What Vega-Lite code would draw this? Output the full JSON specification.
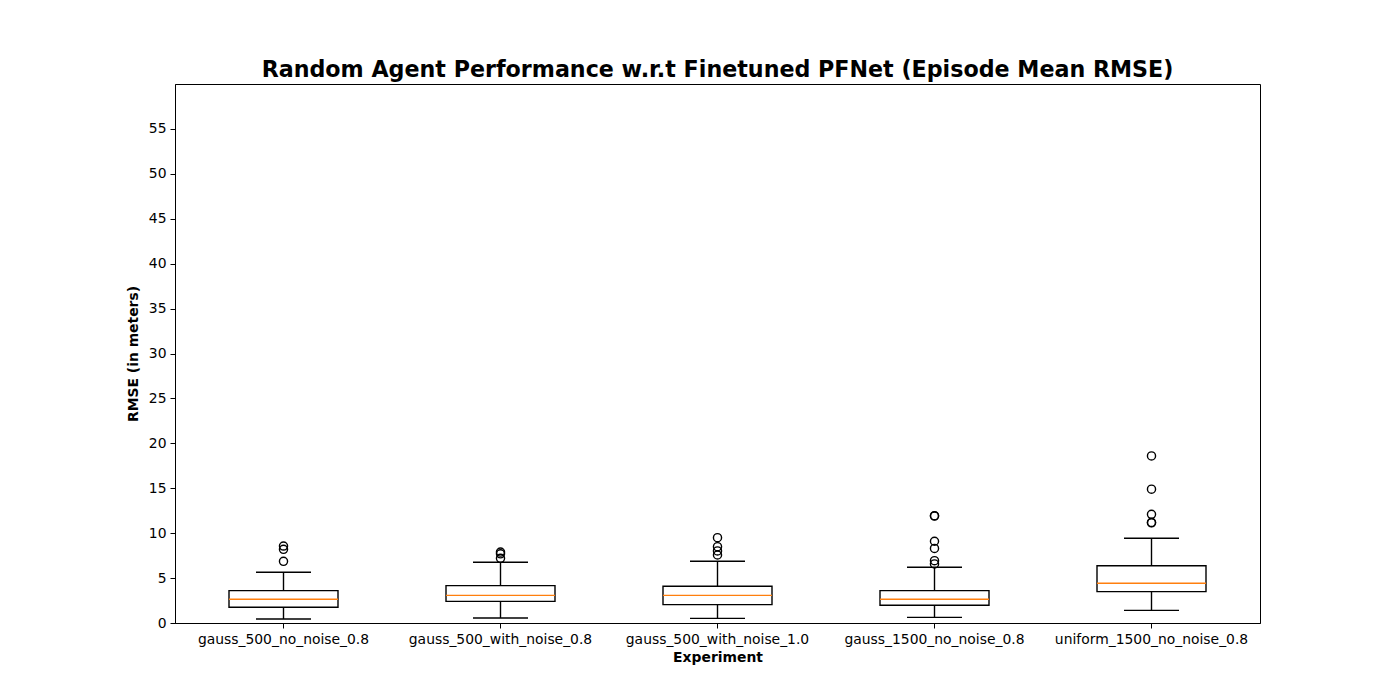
{
  "$schema": "https://vega.github.io/schema/vega-lite/v6.json",
  "autosize": {"type": "none"},
  "padding": {"left": 175, "top": 84, "right": 140, "bottom": 77},
  "width": 1085,
  "height": 539,
  "background": "white",
  "config": {
    "font": "DejaVu Sans",
    "view": {"stroke": "black", "strokeWidth": 1},
    "axis": {"grid": false, "domainColor": "black", "tickColor": "black", "labelColor": "black", "titleColor": "black", "labelFont": "DejaVu Sans", "titleFont": "DejaVu Sans", "labelFontSize": 13.9, "titleFontSize": 13.9, "titleFontWeight": "bold", "tickSize": 5, "labelPadding": 4, "labelLimit": 0}
  },
  "title": {"text": "Random Agent Performance w.r.t Finetuned PFNet (Episode Mean RMSE)", "font": "DejaVu Sans", "fontSize": 22.2, "fontWeight": "bold", "color": "black", "anchor": "middle", "offset": 3},
  "datasets": {
    "stats": [
      {"experiment": "gauss_500_no_noise_0.8", "low": 0.45, "q1": 1.75, "median": 2.64, "q3": 3.6, "high": 5.65},
      {"experiment": "gauss_500_with_noise_0.8", "low": 0.56, "q1": 2.41, "median": 3.08, "q3": 4.16, "high": 6.76},
      {"experiment": "gauss_500_with_noise_1.0", "low": 0.52, "q1": 2.04, "median": 3.08, "q3": 4.09, "high": 6.87},
      {"experiment": "gauss_1500_no_noise_0.8", "low": 0.63, "q1": 1.97, "median": 2.64, "q3": 3.6, "high": 6.2},
      {"experiment": "uniform_1500_no_noise_0.8", "low": 1.41, "q1": 3.49, "median": 4.42, "q3": 6.38, "high": 9.43}
    ],
    "outliers": [
      {"experiment": "gauss_500_no_noise_0.8", "value": 8.57},
      {"experiment": "gauss_500_no_noise_0.8", "value": 8.2},
      {"experiment": "gauss_500_no_noise_0.8", "value": 6.87},
      {"experiment": "gauss_500_with_noise_0.8", "value": 7.9},
      {"experiment": "gauss_500_with_noise_0.8", "value": 7.7},
      {"experiment": "gauss_500_with_noise_0.8", "value": 7.2},
      {"experiment": "gauss_500_with_noise_1.0", "value": 9.5},
      {"experiment": "gauss_500_with_noise_1.0", "value": 8.5},
      {"experiment": "gauss_500_with_noise_1.0", "value": 8.02},
      {"experiment": "gauss_500_with_noise_1.0", "value": 7.57},
      {"experiment": "gauss_1500_no_noise_0.8", "value": 11.95},
      {"experiment": "gauss_1500_no_noise_0.8", "value": 11.9},
      {"experiment": "gauss_1500_no_noise_0.8", "value": 9.1},
      {"experiment": "gauss_1500_no_noise_0.8", "value": 8.3},
      {"experiment": "gauss_1500_no_noise_0.8", "value": 6.94},
      {"experiment": "gauss_1500_no_noise_0.8", "value": 6.57},
      {"experiment": "uniform_1500_no_noise_0.8", "value": 18.6},
      {"experiment": "uniform_1500_no_noise_0.8", "value": 14.9},
      {"experiment": "uniform_1500_no_noise_0.8", "value": 12.1},
      {"experiment": "uniform_1500_no_noise_0.8", "value": 11.2},
      {"experiment": "uniform_1500_no_noise_0.8", "value": 11.15}
    ]
  },
  "encoding": {
    "x": {"field": "experiment", "type": "nominal", "sort": null,
      "scale": {"domain": ["gauss_500_no_noise_0.8", "gauss_500_with_noise_0.8", "gauss_500_with_noise_1.0", "gauss_1500_no_noise_0.8", "uniform_1500_no_noise_0.8"], "paddingInner": 0, "paddingOuter": 0},
      "axis": {"title": "Experiment", "labelAngle": 0, "titlePadding": 5}}
  },
  "layer": [
    {
      "data": {"name": "stats"},
      "mark": {"type": "rule", "color": "black", "strokeWidth": 1.4},
      "encoding": {
        "y": {"field": "low", "type": "quantitative", "scale": {"domain": [0, 60], "nice": false}, "axis": {"title": "RMSE (in meters)", "values": [0, 5, 10, 15, 20, 25, 30, 35, 40, 45, 50, 55], "titlePadding": 8}},
        "y2": {"field": "high"}
      }
    },
    {
      "data": {"name": "stats"},
      "mark": {"type": "bar", "width": 109, "fill": "white", "stroke": "black", "strokeWidth": 1.4},
      "encoding": {
        "y": {"field": "q1", "type": "quantitative"},
        "y2": {"field": "q3"}
      }
    },
    {
      "data": {"name": "stats"},
      "mark": {"type": "tick", "size": 109, "thickness": 1.4, "color": "#ff7f0e", "opacity": 1},
      "encoding": {"y": {"field": "median", "type": "quantitative"}}
    },
    {
      "data": {"name": "stats"},
      "mark": {"type": "tick", "size": 55, "thickness": 1.4, "color": "black", "opacity": 1},
      "encoding": {"y": {"field": "low", "type": "quantitative"}}
    },
    {
      "data": {"name": "stats"},
      "mark": {"type": "tick", "size": 55, "thickness": 1.4, "color": "black", "opacity": 1},
      "encoding": {"y": {"field": "high", "type": "quantitative"}}
    },
    {
      "data": {"name": "outliers"},
      "mark": {"type": "point", "shape": "circle", "filled": false, "size": 66, "stroke": "black", "strokeWidth": 1.4, "opacity": 1},
      "encoding": {"y": {"field": "value", "type": "quantitative"}}
    }
  ]
}
